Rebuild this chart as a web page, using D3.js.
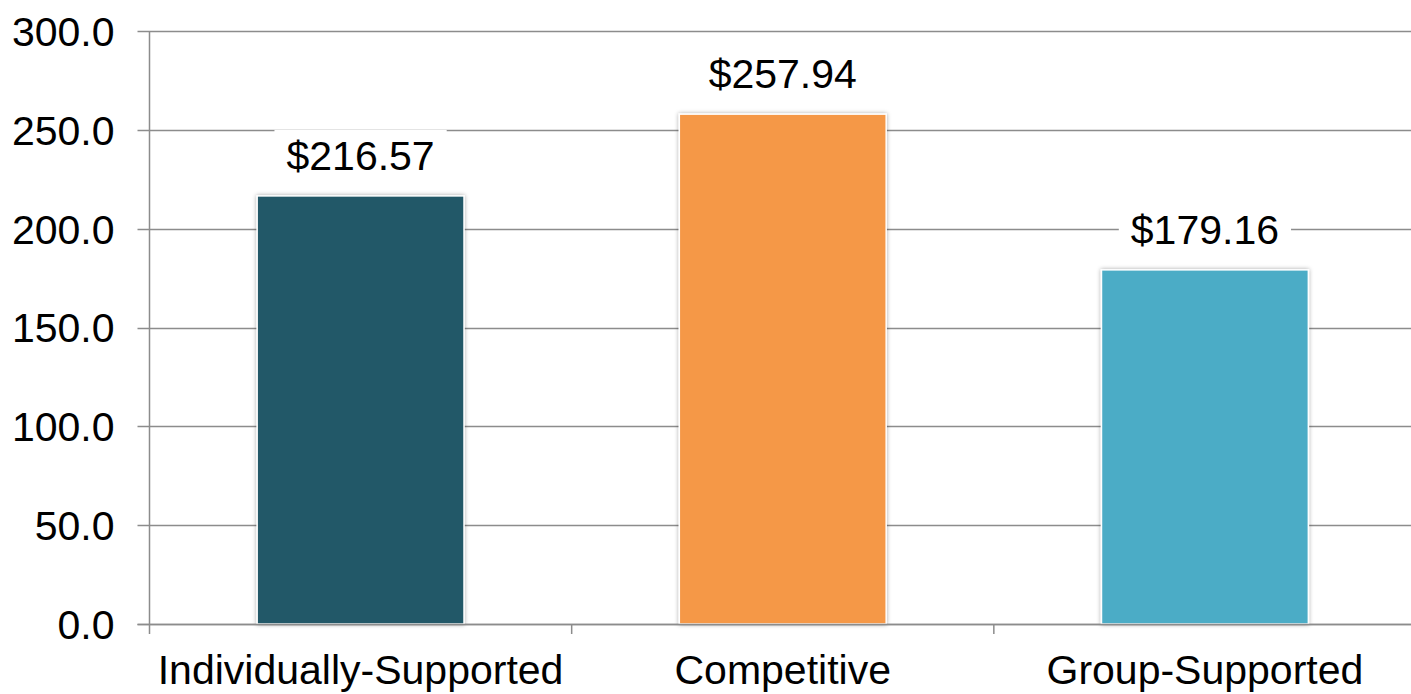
<!DOCTYPE html>
<html><head><meta charset="utf-8">
<script src="https://cdn.jsdelivr.net/npm/d3@7"></script>
<style>html,body{margin:0;padding:0;background:#fff;overflow:hidden}</style>
</head><body>
<svg id="chart" width="1411" height="694"></svg>
<script>
const categories = ["Individually-Supported", "Competitive", "Group-Supported"];
const values = [216.57, 257.94, 179.16];
const colors = ["#225968", "#F59847", "#4BACC6"];
const yTicks = [0, 50, 100, 150, 200, 250, 300];

const svg = d3.select("#chart");
const font = "'Liberation Sans', Arial, sans-serif";
const fs = 41;
const mLeft = 149.5, mRight = 1416, mTop = 31, mBottom = 624;

const x = d3.scaleBand().domain(categories).range([mLeft, mRight]).paddingInner(0.51).paddingOuter(0.255);
const band = d3.scaleBand().domain(categories).range([mLeft, mRight]);
const y = d3.scaleLinear().domain([0, 300]).range([mBottom, mTop]);

const defs = svg.append("defs");
const f = defs.append("filter").attr("id", "glow").attr("x", "-10%").attr("y", "-10%").attr("width", "120%").attr("height", "120%");
f.append("feDropShadow").attr("dx", 0).attr("dy", 0).attr("stdDeviation", 2.2).attr("flood-color", "#000").attr("flood-opacity", 0.35);

// gridlines
svg.append("g").selectAll("line").data(yTicks).join("line")
  .attr("x1", mLeft - 12).attr("x2", mRight)
  .attr("y1", d => Math.round(y(d)) + 0.5).attr("y2", d => Math.round(y(d)) + 0.5)
  .attr("stroke", "#8c8c8c").attr("stroke-width", 1.5);

// y axis
const yAxis = d3.axisLeft(y).tickValues(yTicks).tickFormat(d3.format(".1f")).tickSize(0).tickPadding(35);
const gy = svg.append("g").attr("transform", `translate(${mLeft},0)`).call(yAxis);
gy.select(".domain").remove();
gy.selectAll("text").attr("font-family", font).attr("font-size", fs).attr("fill", "#000").attr("dy", "0.35em");
svg.append("line").attr("x1", mLeft).attr("x2", mLeft).attr("y1", mTop).attr("y2", mBottom + 10)
  .attr("stroke", "#8c8c8c").attr("stroke-width", 1.5);

// x axis category ticks
svg.append("g").selectAll("line").data(categories.slice(1)).join("line")
  .attr("x1", d => band(d)).attr("x2", d => band(d))
  .attr("y1", mBottom).attr("y2", mBottom + 10)
  .attr("stroke", "#8c8c8c").attr("stroke-width", 1.5);

// bars
svg.append("g").selectAll("rect").data(values).join("rect")
  .attr("x", (d, i) => x(categories[i]))
  .attr("width", x.bandwidth())
  .attr("y", d => y(d))
  .attr("height", d => y(0) - y(d))
  .attr("fill", (d, i) => colors[i])
  .attr("stroke", "#fff").attr("stroke-width", 1.5)
  .attr("filter", "url(#glow)");

// redraw baseline over bars
svg.append("line").attr("x1", mLeft - 12).attr("x2", mRight)
  .attr("y1", Math.round(y(0)) + 0.5).attr("y2", Math.round(y(0)) + 0.5)
  .attr("stroke", "#8c8c8c").attr("stroke-width", 1.5);

// value labels with white backgrounds
const lg = svg.append("g");
values.forEach((v, i) => {
  const cx = x(categories[i]) + x.bandwidth() / 2;
  const by = y(v) - 26;
  const r = lg.append("rect").attr("fill", "#fff");
  const t = lg.append("text").attr("x", cx).attr("y", by).attr("text-anchor", "middle")
    .attr("font-family", font).attr("font-size", fs).attr("fill", "#000")
    .text("$" + d3.format(".2f")(v));
  const w = t.node().getComputedTextLength() + 24;
  r.attr("x", cx - w / 2).attr("y", by - 40).attr("width", w).attr("height", 52);
});

// category labels
svg.append("g").selectAll("text").data(categories).join("text")
  .attr("x", d => band(d) + band.bandwidth() / 2)
  .attr("y", 684).attr("text-anchor", "middle")
  .attr("font-family", font).attr("font-size", fs).attr("fill", "#000")
  .text(d => d);
</script>
</body></html>
